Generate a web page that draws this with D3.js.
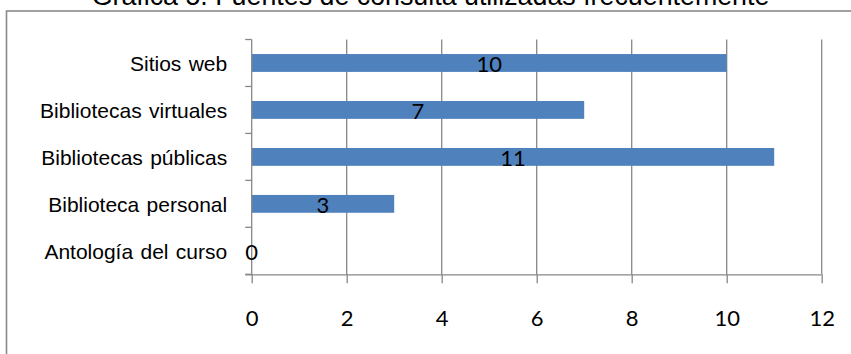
<!DOCTYPE html>
<html>
<head>
<meta charset="utf-8">
<script src="https://cdn.jsdelivr.net/npm/d3@7"></script>
<style>
  html, body { margin: 0; padding: 0; background: #fff; overflow: hidden; }
  svg { display: block; }
</style>
</head>
<body>
<svg id="chart" width="851" height="354"></svg>
<script>
// Sources of reference material used most often (number of responses)
const categories = [
  "Sitios web",
  "Bibliotecas virtuales",
  "Bibliotecas públicas",
  "Biblioteca personal",
  "Antología del curso"
];
const counts = [10, 7, 11, 3, 0];
const xTicks = [0, 2, 4, 6, 8, 10, 12];
const title = "Gráfica 5. Fuentes de consulta utilizadas frecuentemente";

const svg = d3.select("#chart");
const margin = { left: 251.7, right: 29.3, top: 39.5, bottom: 79.7 };
const W = 851, H = 354;

const x = d3.scaleLinear()
  .domain([0, 12])
  .range([margin.left, W - margin.right]);

const y = d3.scaleBand()
  .domain(categories)
  .range([margin.top, H - margin.bottom])
  .paddingInner(0.62)
  .paddingOuter(0.31);

const gridColor = "#878787";

// outer chart frame
svg.append("rect")
  .attr("x", 6.5).attr("y", 11)
  .attr("width", 900).attr("height", 400)
  .attr("fill", "none")
  .attr("stroke", "#8a8a8a")
  .attr("stroke-width", 1.6);

// title (sits above the frame, partly beyond the top edge)
svg.append("text")
  .attr("x", 430.5).attr("y", 5)
  .attr("text-anchor", "middle")
  .attr("font-family", "Liberation Sans, Arial, sans-serif")
  .attr("font-size", 26.8)
  .attr("fill", "#000")
  .text(title);

// vertical gridlines
svg.append("g")
  .selectAll("line")
  .data(xTicks.filter(d => d > 0))
  .join("line")
  .attr("x1", d => x(d)).attr("x2", d => x(d))
  .attr("y1", margin.top).attr("y2", H - margin.bottom)
  .attr("stroke", gridColor)
  .attr("stroke-width", 1.3);

// bars
svg.append("g")
  .selectAll("rect")
  .data(categories)
  .join("rect")
  .attr("x", x(0))
  .attr("y", c => y(c))
  .attr("width", (c, i) => x(counts[i]) - x(0))
  .attr("height", y.bandwidth())
  .attr("fill", "#4f81bd");

// x axis
const xAxis = d3.axisBottom(x)
  .tickValues(xTicks)
  .tickSize(9)
  .tickPadding(27)
  .tickFormat(d3.format("d"));

const gx = svg.append("g")
  .attr("transform", `translate(0,${H - margin.bottom})`)
  .call(xAxis);
gx.select(".domain")
  .attr("d", `M${x(0) - 6.5},0.5H${x(12)}`)
  .attr("stroke", gridColor)
  .attr("stroke-width", 1.3);
gx.selectAll(".tick line")
  .attr("stroke", gridColor)
  .attr("stroke-width", 1.3);
gx.selectAll(".tick text")
  .attr("font-family", "Lato, sans-serif")
  .attr("font-size", 22)
  .attr("fill", "#000");

// y axis: ticks sit between categories
const yAxisG = svg.append("g");
yAxisG.append("line")
  .attr("x1", x(0)).attr("x2", x(0))
  .attr("y1", margin.top).attr("y2", H - margin.bottom)
  .attr("stroke", gridColor)
  .attr("stroke-width", 1.3);
const step = y.step();
const boundaries = d3.range(categories.length + 1).map(i => margin.top + i * step);
yAxisG.selectAll("line.tick")
  .data(boundaries)
  .join("line")
  .attr("class", "tick")
  .attr("x1", x(0) - 6.5).attr("x2", x(0))
  .attr("y1", d => d).attr("y2", d => d)
  .attr("stroke", gridColor)
  .attr("stroke-width", 1.3);

// category labels
yAxisG.selectAll("text")
  .data(categories)
  .join("text")
  .attr("x", x(0) - 24.5)
  .attr("y", c => y(c) + y.bandwidth() / 2 + 8)
  .attr("text-anchor", "end")
  .attr("font-family", "Liberation Sans, Arial, sans-serif")
  .attr("font-size", 21)
  .attr("word-spacing", 1.5)
  .attr("fill", "#000")
  .text(c => c);

// value labels centred in each bar
svg.append("g")
  .selectAll("text")
  .data(categories)
  .join("text")
  .attr("x", (c, i) => x(counts[i] / 2))
  .attr("y", c => y(c) + y.bandwidth() / 2 + 9)
  .attr("text-anchor", "middle")
  .attr("font-family", "Lato, sans-serif")
  .attr("font-size", 22)
  .attr("fill", "#000")
  .text((c, i) => counts[i]);
</script>
</body>
</html>
